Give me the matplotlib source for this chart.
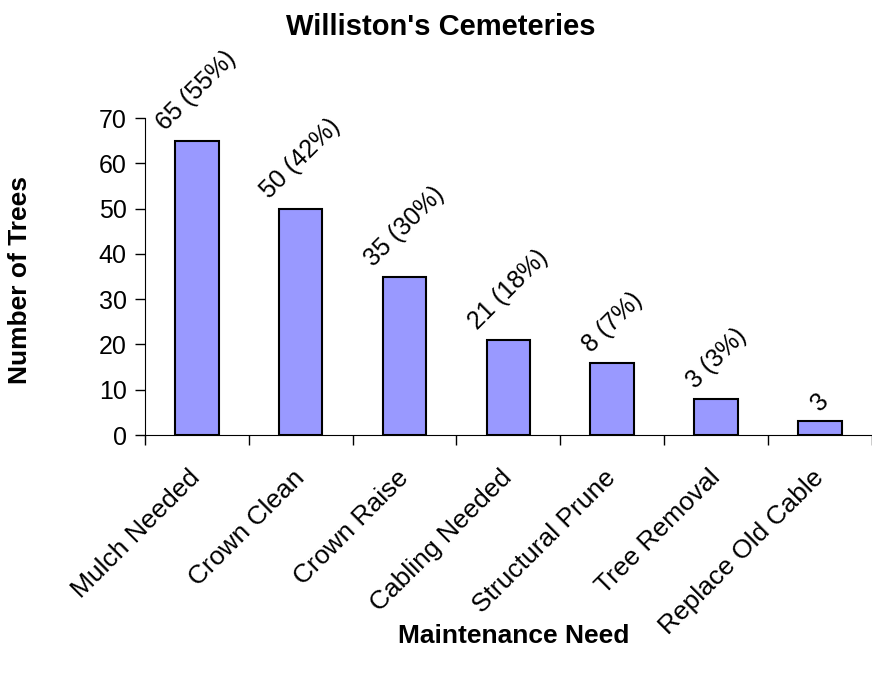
import numpy as np
import matplotlib
matplotlib.use("Agg")
import matplotlib.pyplot as plt

plt.rcParams['font.family'] = ['Liberation Sans', 'DejaVu Sans']

needs = ["Mulch Needed", "Crown Clean", "Crown Raise", "Cabling Needed",
         "Structural Prune", "Tree Removal", "Replace Old Cable"]
trees = [65, 50, 35, 21, 16, 8, 3]
labels = ["65 (55%)", "50 (42%)", "35 (30%)", "21 (18%)", "8 (7%)", "3 (3%)", "3"]

fig = plt.figure(figsize=(8.72, 6.76), dpi=100)
ax = fig.add_axes([0.166, 0.3565, 0.834, 0.4689])

x = np.arange(len(needs))
ax.bar(x, trees, width=0.42, color="#9999ff", edgecolor="black", linewidth=1.5, zorder=2)

# value labels, tilted like the category names
for xi, v, lab in zip(x, trees, labels):
    ax.annotate(lab, (xi, v), xytext=(0, 4), textcoords="offset points",
                rotation=45, ha="center", va="bottom", fontsize=18)

ax.set_xlim(-0.5, len(needs) - 0.5)
ax.set_ylim(0, 70)
ax.set_yticks(range(0, 71, 10))
ax.set_xticks(x)
ax.set_xticklabels(needs, rotation=45, ha="right", va="center",
                   rotation_mode="anchor", fontsize=19)
ax.set_xticks(np.arange(-0.5, len(needs), 1), minor=True)
ax.tick_params(axis="x", which="major", length=0, pad=28)
ax.tick_params(axis="x", which="minor", length=7, width=1, direction="out")
ax.tick_params(axis="y", length=7, width=1, labelsize=18, pad=6)

for s in ["top", "right"]:
    ax.spines[s].set_visible(False)

fig.text(0.505, 0.96, "Williston's Cemeteries", fontsize=21, fontweight="bold",
         ha="center", va="center")
fig.text(0.589, 0.059, "Maintenance Need", fontsize=19, fontweight="bold",
         ha="center", va="center")
fig.text(0.023, 0.586, "Number of Trees", fontsize=19, fontweight="bold",
         ha="center", va="center", rotation=90)

fig.savefig("out.png", dpi=100)
